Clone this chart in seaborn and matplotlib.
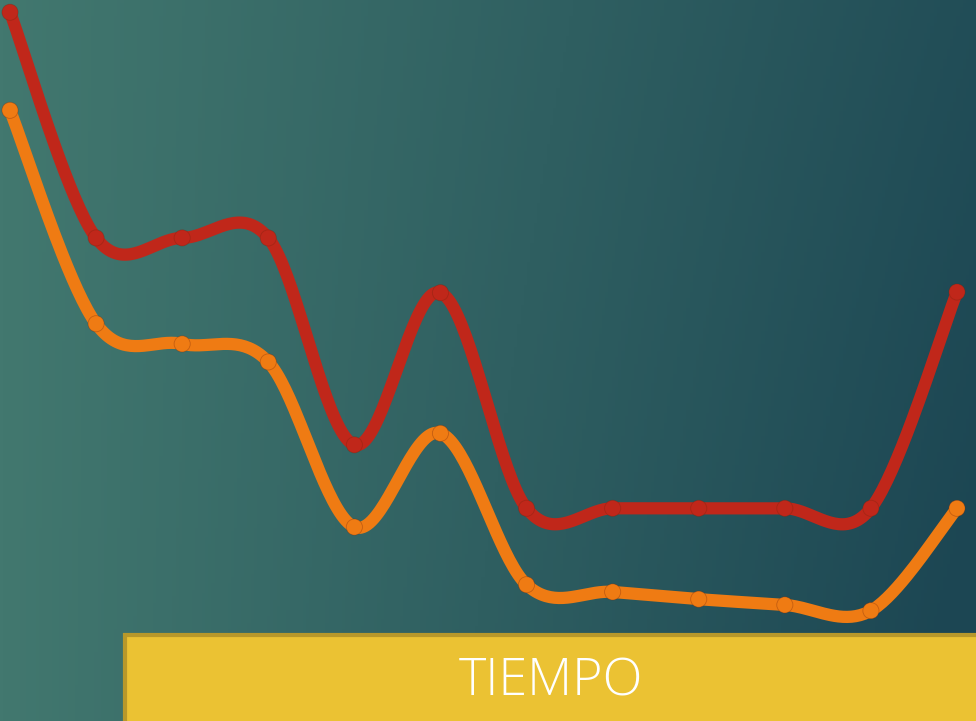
import numpy as np
import pandas as pd
import matplotlib
matplotlib.use("Agg")
import matplotlib.pyplot as plt
from matplotlib.patches import Rectangle
import seaborn as sns

# ---- data (arbitrary 0-100 scale) ----
periods = list(range(1, 13))
serie_roja = [98.3, 67.0, 67.0, 67.0, 38.3, 59.4, 29.5, 29.5, 29.5, 29.5, 29.5, 59.5]
serie_naranja = [84.7, 55.1, 52.3, 49.8, 26.9, 39.9, 18.9, 17.9, 16.9, 16.1, 15.3, 29.5]
axis_label = "TIEMPO"

RED = "#C0271A"
ORANGE = "#EF7B13"


def smooth(xs, ys, n=40):
    """Catmull-Rom style smoothing (like an office 'smoothed line')."""
    xs = np.asarray(xs, float)
    ys = np.asarray(ys, float)
    px = np.concatenate([[xs[0]], xs, [xs[-1]]])
    py = np.concatenate([[ys[0]], ys, [ys[-1]]])
    out_x, out_y = [], []
    t = np.linspace(0, 1, n, endpoint=False)
    for i in range(1, len(px) - 2):
        p0x, p1x, p2x, p3x = px[i - 1], px[i], px[i + 1], px[i + 2]
        p0y, p1y, p2y, p3y = py[i - 1], py[i], py[i + 1], py[i + 2]
        m1x, m2x = (p2x - p0x) / 2, (p3x - p1x) / 2
        m1y, m2y = (p2y - p0y) / 2, (p3y - p1y) / 2
        h00 = 2 * t**3 - 3 * t**2 + 1
        h10 = t**3 - 2 * t**2 + t
        h01 = -2 * t**3 + 3 * t**2
        h11 = t**3 - t**2
        out_x.append(h00 * p1x + h10 * m1x + h01 * p2x + h11 * m2x)
        out_y.append(h00 * p1y + h10 * m1y + h01 * p2y + h11 * m2y)
    out_x.append([xs[-1]])
    out_y.append([ys[-1]])
    return np.concatenate(out_x), np.concatenate(out_y)


sns.set_theme(style="white")
fig = plt.figure(figsize=(9.76, 7.21), dpi=100)

# background gradient
bg = fig.add_axes([0, 0, 1, 1], zorder=0)
bg.set_axis_off()
gx = np.linspace(0, 1, 300)
gy = np.linspace(0, 1, 220)
GX, GY = np.meshgrid(gx, gy)
tval = np.clip(0.85 * GX + 0.2 * GY * GX, 0, 1)
c_left = np.array([0x42, 0x78, 0x6F]) / 255
c_right = np.array([0x1C, 0x46, 0x53]) / 255
img = c_left[None, None, :] * (1 - tval[..., None]) + c_right[None, None, :] * tval[..., None]
bg.imshow(img, aspect="auto", extent=[0, 1, 0, 1], origin="upper")
bg.set_xlim(0, 1)
bg.set_ylim(0, 1)

ax = fig.add_axes([0, 0, 1, 1], zorder=1)
ax.patch.set_alpha(0)

rows = []
for name, vals in (("roja", serie_roja), ("naranja", serie_naranja)):
    sx, sy = smooth(periods, vals)
    for a, b in zip(sx, sy):
        rows.append({"serie": name, "x": a, "y": b})
curves = pd.DataFrame(rows)
points = pd.DataFrame(
    {"serie": ["roja"] * 12 + ["naranja"] * 12,
     "x": periods * 2,
     "y": serie_roja + serie_naranja}
)
palette = {"roja": RED, "naranja": ORANGE}

sns.lineplot(data=curves, x="x", y="y", hue="serie", palette=palette,
             sort=False, estimator=None, linewidth=8.8, legend=False, ax=ax,
             solid_capstyle="round")
sns.scatterplot(data=points, x="x", y="y", hue="serie", palette=palette,
                s=135, linewidth=0.6, edgecolor=(0.45, 0.15, 0.05, 0.35),
                legend=False, ax=ax, zorder=3)

# layout: first point near px 10, last near px 957
step = (957 - 10) / 11
ax.set_xlim(1 - 10 / step, 1 + (976 - 10) / step)
ax.set_ylim(0, 100)
ax.set_axis_off()

# yellow label box
bx = fig.add_axes([0, 0, 1, 1], zorder=2)
bx.set_axis_off()
bx.patch.set_alpha(0)
bx.set_xlim(0, 976)
bx.set_ylim(721, 0)
bx.add_patch(Rectangle((125, 635), 900, 100, facecolor="#EBC233",
                       edgecolor="#B8982A", linewidth=3))
bx.text(551, 682, axis_label, color="white", fontsize=37.5,
        family=["Open Sans", "DejaVu Sans"], fontweight=300,
        ha="center", va="center")

fig.savefig("out.png", dpi=100)
